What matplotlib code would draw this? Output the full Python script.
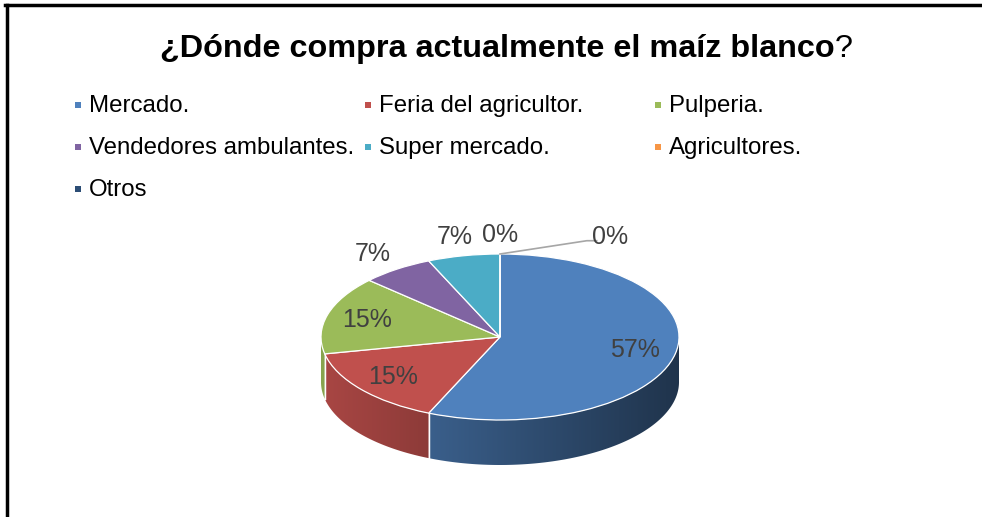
import numpy as np
import matplotlib
matplotlib.use("Agg")
import matplotlib.pyplot as plt
from matplotlib.patches import Polygon, Rectangle
from matplotlib.lines import Line2D
from matplotlib.colors import to_rgb

# data
labels = ["Mercado.", "Feria del agricultor.", "Pulperia.",
          "Vendedores ambulantes.", "Super mercado.", "Agricultores.", "Otros"]
counts = [26, 7, 7, 3, 3, 0, 0]
colors = ["#4F81BD", "#C0504D", "#9BBB59", "#8064A2", "#4BACC6", "#F79646", "#2C4D75"]
title_bold = "¿Dónde compra actualmente el maíz blanco"
title_tail = "?"

W, H = 982, 517
plt.rcParams["font.family"] = ["Liberation Sans", "DejaVu Sans"]
fig = plt.figure(figsize=(W / 100, H / 100), dpi=100)
fig.patch.set_facecolor("white")


def fx(px):
    return px / W


def fy(py):
    return 1 - py / H


# border lines (top and left)
fig.add_artist(Line2D([fx(5), 1], [fy(5), fy(5)], color="black", lw=2.5))
fig.add_artist(Line2D([fx(7), fx(7)], [fy(5), 0], color="black", lw=2.5))

# pie geometry in pixels
cx, cy, rx, ry, depth = 500, 337, 179, 83, 45
ax = fig.add_axes([0, 0, 1, 1])
wedges, _ = ax.pie(counts, colors=colors, startangle=90, counterclock=False,
                   radius=1, center=(0, 0),
                   wedgeprops=dict(edgecolor="white", linewidth=0.9, zorder=3))
ax.set_aspect("auto")
xlim = (-cx / rx, (W - cx) / rx)
ylim = ((cy - H) / ry, cy / ry)
d = depth / ry


def shade(x):
    return 0.64 - 0.24 * x


# side walls of the front half, shaded left-to-right
for w, col in zip(wedges, colors):
    base = np.array(to_rgb(col))
    for k in (-360, 0, 360):
        a = max(w.theta1 + k, 180)
        b = min(w.theta2 + k, 360)
        if b <= a:
            continue
        angs = np.radians(np.linspace(a, b, 200))
        top = np.column_stack([np.cos(angs), np.sin(angs)])
        bot = np.column_stack([np.cos(angs[::-1]), np.sin(angs[::-1]) - d])
        side = Polygon(np.vstack([top, bot]), closed=True, facecolor="none",
                       edgecolor="none", zorder=1)
        ax.add_patch(side)
        x0, x1 = top[:, 0].min(), top[:, 0].max()
        xs = np.linspace(x0, x1, 256)
        grad = np.clip(base[None, :] * shade(xs)[:, None], 0, 1)[None, :, :]
        im = ax.imshow(grad, extent=(x0, x1, -1 - d, 0.05), aspect="auto",
                       interpolation="bilinear", zorder=1)
        im.set_clip_path(side)
        # white seam on the side at slice edges
        for t in (a, b):
            if 180 < t < 360:
                p = np.radians(t)
                ax.plot([np.cos(p), np.cos(p)], [np.sin(p), np.sin(p) - d],
                        color="white", lw=0.9, zorder=2)

ax.set_xlim(*xlim)
ax.set_ylim(*ylim)
ax.axis("off")

# percentage labels
total = sum(counts)
zero_seen = 0
for w, n in zip(wedges, counts):
    pct = round(100 * n / total)
    mid = np.radians((w.theta1 + w.theta2) / 2)
    if pct >= 10:
        r = 0.77
        ax.text(r * np.cos(mid), r * np.sin(mid), f"{pct}%", ha="center", va="center",
                fontsize=18, color="#404040", zorder=5)
    elif n > 0 or zero_seen == 0:
        r = 1.23
        ax.text(r * np.cos(mid), r * np.sin(mid), f"{pct}%", ha="center", va="center",
                fontsize=18, color="#404040", zorder=5)
        if n == 0:
            zero_seen += 1
    else:
        # second empty slice: pushed to the right with a leader line
        tx, ty = np.cos(mid) + 0.615, np.sin(mid) + 0.2
        ax.plot([np.cos(mid), tx - 0.13, tx - 0.075], [np.sin(mid), ty - 0.04, ty - 0.04],
                color="#A6A6A6", lw=1.2, zorder=4)
        ax.text(tx, ty, f"{pct}%", ha="center", va="center",
                fontsize=18, color="#404040", zorder=5)

# title: bold question + regular question mark
renderer = fig.canvas.get_renderer()
t1 = fig.text(0, fy(57), title_bold, fontsize=23.3, fontweight="bold", ha="left", va="baseline")
t2 = fig.text(0, fy(57), title_tail, fontsize=23.3, ha="left", va="baseline")
w1 = t1.get_window_extent(renderer).width
w2 = t2.get_window_extent(renderer).width
x0 = 506 - (w1 + w2) / 2
t1.set_x(fx(x0))
t2.set_x(fx(x0 + w1))

# legend, three per row
for i, (lab, col) in enumerate(zip(labels, colors)):
    r, c = divmod(i, 3)
    mx = 78 + c * 290
    my = 105 + r * 42
    fig.add_artist(Rectangle((fx(mx - 3), fy(my + 3)), 6 / W, 6 / H,
                             transform=fig.transFigure, facecolor=col, edgecolor="none"))
    fig.text(fx(mx + 11), fy(my + 7), lab, fontsize=17.3, ha="left", va="baseline")

fig.savefig("out.png", dpi=100, facecolor="white")
